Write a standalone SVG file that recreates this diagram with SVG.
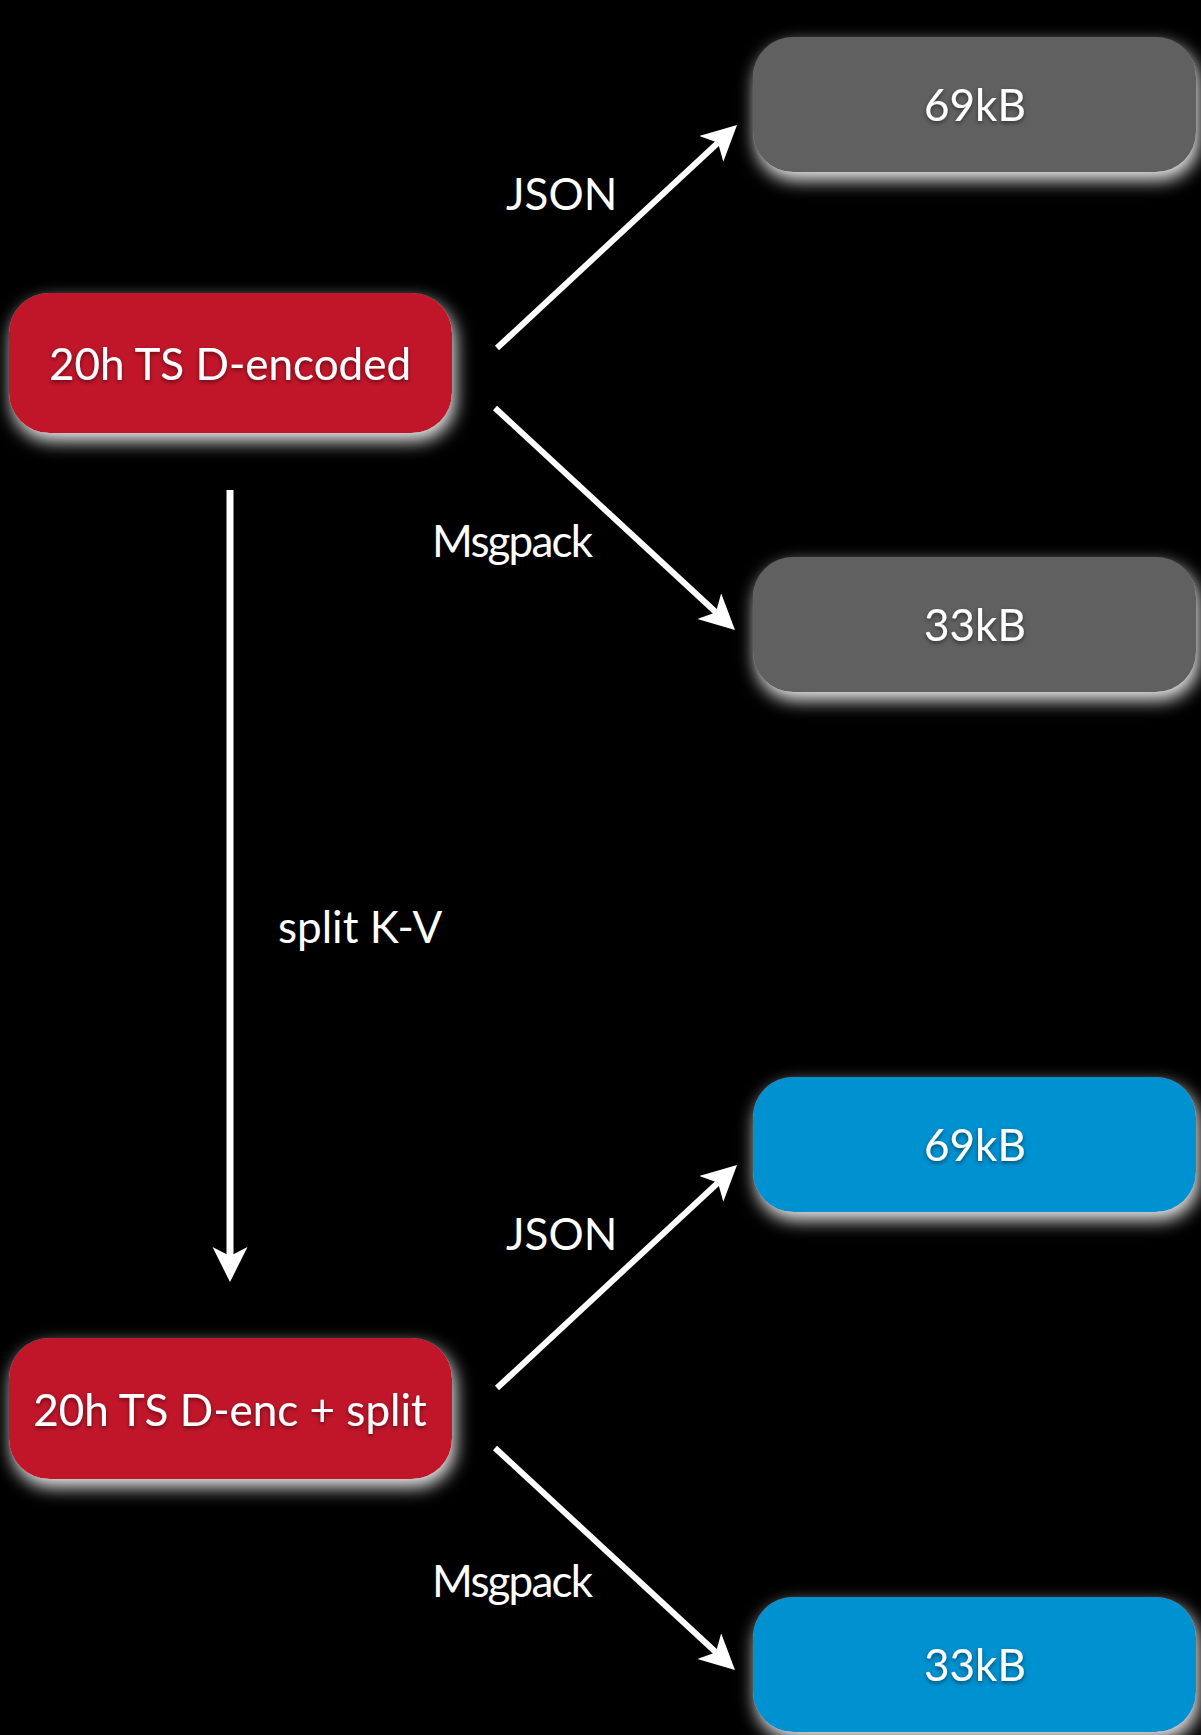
<svg xmlns="http://www.w3.org/2000/svg" width="1201" height="1735" viewBox="0 0 1201 1735">
<style>
.red{fill:#C1172A}
.gray{fill:#616161}
.blue{fill:#0091D1}
.box{filter:url(#glow)}
.nt{font-family:Lato,"Open Sans","Liberation Sans",sans-serif;font-size:44px;fill:#fff;text-anchor:middle;filter:url(#tshadow)}
.lbl{font-family:Lato,"Open Sans","Liberation Sans",sans-serif;font-size:44px;fill:#fff}
.conn{stroke:#fff;stroke-width:6;fill:none;marker-end:url(#ah)}
</style>
<defs>
<filter id="glow" x="-20%" y="-30%" width="140%" height="180%">
<feGaussianBlur in="SourceAlpha" stdDeviation="9" result="b"/>
<feOffset in="b" dx="3" dy="8" result="o"/>
<feFlood flood-color="#ffffff" flood-opacity="0.95"/>
<feComposite in2="o" operator="in" result="s"/>
<feMerge><feMergeNode in="s"/><feMergeNode in="SourceGraphic"/></feMerge>
</filter>
<filter id="tshadow" x="-10%" y="-30%" width="120%" height="160%">
<feGaussianBlur in="SourceAlpha" stdDeviation="2" result="b"/>
<feOffset in="b" dx="0" dy="2" result="o"/>
<feFlood flood-color="#000" flood-opacity="0.5"/>
<feComposite in2="o" operator="in" result="s"/>
<feMerge><feMergeNode in="s"/><feMergeNode in="SourceGraphic"/></feMerge>
</filter>
<marker id="ah" markerUnits="userSpaceOnUse" markerWidth="36" markerHeight="36" viewBox="0 0 36 36" refX="9" refY="17.5" orient="auto">
<path d="M0,0 L35,17.5 L0,35 L9,17.5 Z" fill="#fff"/>
</marker>
</defs>
<rect width="1201" height="1735" fill="#000"/>
<g id="connectors">
<line class="conn" x1="497" y1="348" x2="718" y2="142.7"/>
<line class="conn" x1="495" y1="408" x2="715.9" y2="612.3"/>
<line class="conn" x1="230" y1="490" x2="230" y2="1256" style="stroke-width:7"/>
<line class="conn" x1="497" y1="1388" x2="718" y2="1182.7"/>
<line class="conn" x1="495" y1="1448" x2="715.9" y2="1652.3"/>
<text class="lbl" x="506" y="210">JSON</text>
<text class="lbl" x="432" y="557" textLength="161">Msgpack</text>
<text class="lbl" x="278" y="943">split K-V</text>
<text class="lbl" x="506" y="1250">JSON</text>
<text class="lbl" x="432" y="1597" textLength="161">Msgpack</text>
</g>
<g id="n-red1">
<rect class="box red" x="9" y="293" width="443" height="140" rx="40"/>
<text class="nt" x="230" y="380">20h TS D-encoded</text>
</g>
<g id="n-gray1">
<rect class="box gray" x="753" y="37" width="443" height="135" rx="40"/>
<text class="nt" x="975" y="121">69kB</text>
</g>
<g id="n-gray2">
<rect class="box gray" x="753" y="557" width="443" height="135" rx="40"/>
<text class="nt" x="975" y="641">33kB</text>
</g>
<g id="n-blue1">
<rect class="box blue" x="753" y="1077" width="443" height="135" rx="40"/>
<text class="nt" x="975" y="1161">69kB</text>
</g>
<g id="n-red2">
<rect class="box red" x="9" y="1338" width="443" height="141" rx="40"/>
<text class="nt" x="230" y="1426">20h TS D-enc + split</text>
</g>
<g id="n-blue2">
<rect class="box blue" x="753" y="1597" width="443" height="135" rx="40"/>
<text class="nt" x="975" y="1681">33kB</text>
</g>
</svg>
